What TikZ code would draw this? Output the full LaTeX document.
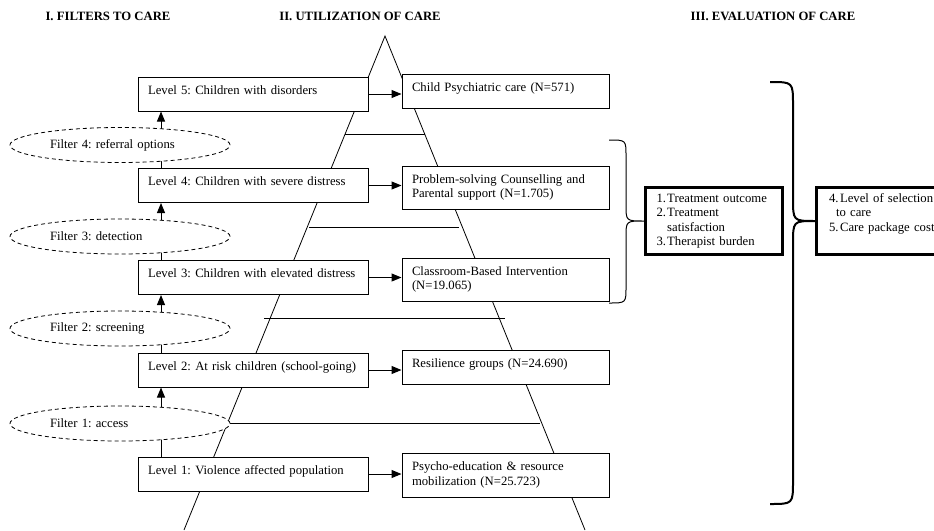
\documentclass[tikz,border=0pt]{standalone}
\usepackage{fontspec}
\setmainfont{Liberation Serif}
\usetikzlibrary{arrows.meta,shapes.geometric}
\pgfdeclarelayer{background}
\pgfsetlayers{background,main}
\frenchspacing
\tikzset{
  basefont/.style={font=\fontsize{12.7pt}{14.6pt}\selectfont\frenchspacing},
  levelbox/.style={basefont, draw, fill=white, line width=1pt, minimum width=230pt,
    text width=210pt, inner xsep=10pt, align=left, minimum height=34pt, text depth=8pt},
  carebox/.style={basefont, draw, fill=white, line width=1pt, minimum width=207pt,
    text width=187pt, inner xsep=10pt, align=left},
  oneline/.style={text depth=8pt},
  filterell/.style={basefont, ellipse, draw, dash pattern=on 4pt off 3pt, fill=white,
    line width=0.8pt, minimum width=220pt, minimum height=35pt, inner sep=0pt,
    text width=140pt, align=left},
  evalbox/.style={basefont, draw, fill=white, line width=3pt, anchor=west,
    minimum height=67pt, align=left},
  header/.style={font=\bfseries\fontsize{12.7pt}{14.6pt}\selectfont\frenchspacing},
  arr/.style={-{Triangle[length=10pt,width=8pt]}, line width=1pt},
  tri/.style={line width=0.8pt},
}
\begin{document}
\begin{tikzpicture}[x=1pt,y=-1pt]
\useasboundingbox (0,0) rectangle (934,530);
\clip (0,0) rectangle (934,530);

% headers
\node[header] (h1) at (108,16) {I. FILTERS TO CARE};
\node[header] (h2) at (360,16) {II. UTILIZATION OF CARE};
\node[header] (h3) at (773,16) {III. EVALUATION OF CARE};

% level boxes
\node[levelbox] (L5) at (253,94)   {Level 5: Children with disorders};
\node[levelbox] (L4) at (253,185.5){Level 4: Children with severe distress};
\node[levelbox] (L3) at (253,277.5){Level 3: Children with elevated distress};
\node[levelbox] (L2) at (253,370)  {Level 2: At risk children (school-going)};
\node[levelbox] (L1) at (253,474)  {Level 1: Violence affected population};

% care boxes
\node[carebox, oneline, minimum height=34pt] (R5) at (505.5,91) {Child Psychiatric care (N=571)};
\node[carebox, minimum height=43pt] (R4) at (505.5,187.5) {Problem-solving Counselling and\\Parental support (N=1.705)};
\node[carebox, minimum height=43pt] (R3) at (505.5,279.5) {Classroom-Based Intervention\\(N=19.065)};
\node[carebox, oneline, minimum height=34pt] (R2) at (505.5,367) {Resilience groups (N=24.690)};
\node[carebox, minimum height=44pt] (R1) at (505.5,475) {Psycho-education \& resource\\mobilization (N=25.723)};

% filters
\node[filterell] (F4) at (120,145)   {Filter 4: referral options};
\node[filterell] (F3) at (120,236.5) {Filter 3: detection};
\node[filterell] (F2) at (120,328.5) {Filter 2: screening};
\node[filterell] (F1) at (120,423.5) {Filter 1: access};

% evaluation boxes
\node[evalbox, minimum width=137pt, text width=115pt, inner xsep=11pt] (E1) at (644,221)
  {\begin{tabular}{@{}l@{\hspace{1.2pt}}l@{}}
   1. & Treatment outcome\\
   2. & Treatment\\
      & satisfaction\\
   3. & Therapist burden
   \end{tabular}};
\node[evalbox, minimum width=135pt, text width=110pt, inner xsep=12pt] (E2) at (815,221)
  {\begin{tabular}{@{}l@{\hspace{1.5pt}}l@{}}
   4. & Level of selection\\
   \multicolumn{2}{@{}l@{}}{\hspace{7pt}to care}\\
   5. & Care package cost\\
      & \\
   \end{tabular}};

\coordinate (ax) at (161,0);

\begin{pgfonlayer}{background}
  % pyramid
  \draw[tri] (184,530) -- (385,36) -- (585,530);
  \draw[tri] (345,134.5) -- (425,134.5);
  \draw[tri] (309,227) -- (459,227);
  \draw[tri] (264,318) -- (505,318);
  \draw[tri] (230,423) -- (540,423);
  % filter arrows
  \draw[arr] (ax |- L4.north) -- (ax |- L5.south);
  \draw[arr] (ax |- L3.north) -- (ax |- L4.south);
  \draw[arr] (ax |- L2.north) -- (ax |- L3.south);
  \draw[arr] (ax |- L1.north) -- (ax |- L2.south);
\end{pgfonlayer}

% level to care arrows
\foreach \i in {1,...,5}{
  \draw[arr] (L\i.east) -- (L\i.east -| R\i.west);
}

% braces
\draw[line width=1pt] (609,140) .. controls (626,140) .. (626,156) -- (626,205)
   .. controls (626,221) .. (E1.west)
   .. controls (626,221) .. (626,237) -- (626,287) .. controls (626,303) .. (609,303);
\draw[line width=2pt] (770,82) .. controls (793,82) .. (793,105) -- (793,198)
   .. controls (793,221) .. (E2.west)
   .. controls (793,221) .. (793,244) -- (793,481) .. controls (793,504) .. (770,504);
\end{tikzpicture}
\end{document}
